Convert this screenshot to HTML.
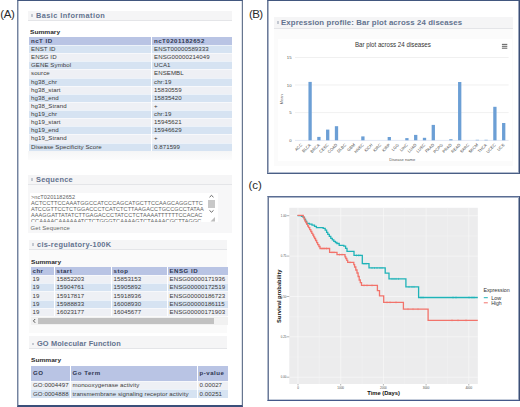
<!DOCTYPE html>
<html><head><meta charset="utf-8">
<style>
*{margin:0;padding:0;box-sizing:border-box}
html,body{width:520px;height:407px;overflow:hidden;background:#fff}
body{position:relative;font-family:"Liberation Sans",sans-serif;color:#333}
.abs{position:absolute}
.lbl{position:absolute;font-size:11.5px;color:#2a2a2a;line-height:1;white-space:nowrap}
.panel{position:absolute;border-style:solid}
.hdr{position:absolute;background:#f5f5f6;border-bottom:1px solid #e4e5e8;height:9.5px}
.hdr span{position:absolute;left:8px;top:1.2px;font-weight:bold;font-size:7.4px;color:#63738f;line-height:1;white-space:nowrap}
.hdr i{position:absolute;left:2.8px;top:3.4px;width:2.6px;height:2.6px;background:#c3c8d1}
table{position:absolute;border-collapse:collapse;font-size:6.1px;line-height:1;color:#3a3a3a}
td,th{padding:0 0 0 2px;letter-spacing:0.08px;text-align:left;white-space:nowrap;overflow:hidden;vertical-align:middle}
th{font-weight:bold;color:#2f3650;letter-spacing:0.5px}
.sum{position:absolute;font-size:5.7px;transform:scaleX(1.16);transform-origin:0 0;font-weight:bold;color:#2a2a2a;line-height:1}
tr.h{background:#b9c4e4}
tr.b{background:#d6e3f2}
tr.b td,tr.l td{box-shadow:inset 0 1px 0 rgba(255,255,255,.55)}
tr.l{background:#eef0f5}
td+td,th+th{border-left:1px solid #fff}
</style></head><body>

<div class="lbl" style="left:0.3px;top:9px;letter-spacing:-0.4px">(A)</div>
<div class="lbl" style="left:249px;top:9px;letter-spacing:-0.6px">(B)</div>
<div class="lbl" style="left:248.5px;top:179.5px">(c)</div>

<!-- Panel A -->
<div class="panel" style="left:17px;top:0;width:226px;height:407px;border-width:1px 1px 2px 1px;border-color:#42577f #67768f #3a4f7a #74839f;box-shadow:inset 1px 0 0 #bcc5d4,inset -1px 0 0 #dde2ea"></div>

<!-- Basic information -->
<div class="hdr" style="left:28px;top:11px;width:204px"><i></i><span style="letter-spacing:0.4px">Basic Information</span></div>
<div class="sum" style="left:29.5px;top:29.6px">Summary</div>
<table style="left:29px;top:37px;width:203px">
<colgroup><col style="width:122.5px"><col></colgroup>
<tr class="h" style="height:8.1px"><th>ncT ID</th><th>ncT0201182652</th></tr>
<tr class="b" style="height:8.13px"><td>ENST ID</td><td>ENST00000589333</td></tr>
<tr class="l" style="height:8.13px"><td>ENSG ID</td><td>ENSG00000214049</td></tr>
<tr class="b" style="height:8.13px"><td>GENE Symbol</td><td>UCA1</td></tr>
<tr class="l" style="height:8.13px"><td>source</td><td>ENSEMBL</td></tr>
<tr class="b" style="height:8.13px"><td>hg38_chr</td><td>chr:19</td></tr>
<tr class="l" style="height:8.13px"><td>hg38_start</td><td>15830559</td></tr>
<tr class="b" style="height:8.13px"><td>hg38_end</td><td>15835420</td></tr>
<tr class="l" style="height:8.13px"><td>hg38_Strand</td><td>+</td></tr>
<tr class="b" style="height:8.13px"><td>hg19_chr</td><td>chr:19</td></tr>
<tr class="l" style="height:8.13px"><td>hg19_start</td><td>15945621</td></tr>
<tr class="b" style="height:8.13px"><td>hg19_end</td><td>15946629</td></tr>
<tr class="l" style="height:8.13px"><td>hg19_Strand</td><td>+</td></tr>
<tr class="b" style="height:8.13px"><td>Disease Specificity Score</td><td>0.871599</td></tr>
</table>
<div class="abs" style="left:28px;top:151px;width:204px;height:9px;background:linear-gradient(#f5f6f7,#fcfcfc)"></div>


<!-- Sequence -->
<div class="hdr" style="left:28px;top:175px;width:204px"><i></i><span style="letter-spacing:0.25px">Sequence</span></div>
<div class="abs" style="left:28px;top:185px;width:204px;height:48px;background:#f7f7f8"></div>
<div class="abs" style="left:29.5px;top:193px;width:188px;height:29px;background:#fff;overflow:hidden">
<div class="abs seq" style="left:1.5px;top:0.8px;font-size:5.55px;line-height:6.15px;color:#636363;white-space:pre;letter-spacing:0.09px">&gt;ncT0201182652
ACTCCTTCCAAATGGCCATCCCAGCATGCTTCCAAGCAGGCTTC
ATCCGTTCCTCTGGACCCTCATCTCTTAAGACCTGCCGCCTATAA
AAAGGATTATATCTTGAGACCCTATCCTCTAAAATTTTTTCCACAC
CCAAAACAAAAAATCTCTGGGTCAAAAGTCTAAAACGCTTAGGC</div>
<div class="abs" style="left:178px;top:6.5px;width:7px;height:8.5px;background:#c8c8c8"></div>
<svg class="abs" style="left:177px;top:0" width="10" height="30" viewBox="0 0 10 30">
<path d="M2.5 4.2 L4.5 2.4 L6.5 4.2" fill="none" stroke="#555" stroke-width="0.9"/>
<path d="M2.5 17.4 L4.5 19.2 L6.5 17.4" fill="none" stroke="#555" stroke-width="0.9"/>
<path d="M8 24 L8 28.5 L3.5 28.5 Z" fill="#bdbdbd"/>
</svg>
</div>
<div class="abs" style="left:30.5px;top:225.8px;font-size:5.9px;color:#666;line-height:1;white-space:nowrap;letter-spacing:0.15px">Get Sequence</div>

<!-- cis-regulatory -->
<div class="hdr" style="left:29px;top:240px;width:198px"><i></i><span style="letter-spacing:0.28px">cis-regulatory-100K</span></div>
<div class="abs" style="left:29px;top:250px;width:198px;height:83px;background:#fafafa"></div>
<div class="sum" style="left:31px;top:259.5px">Summary</div>
<table style="left:30.5px;top:267px;width:197.5px">
<colgroup><col style="width:23.5px"><col style="width:57px"><col style="width:56px"><col></colgroup>
<tr class="h" style="height:7.8px"><th>chr</th><th>start</th><th>stop</th><th>ENSG ID</th></tr>
<tr class="l" style="height:8.33px"><td>19</td><td>15852203</td><td>15853153</td><td>ENSG00000171936</td></tr>
<tr class="b" style="height:8.33px"><td>19</td><td>15904761</td><td>15905892</td><td>ENSG00000172519</td></tr>
<tr class="l" style="height:8.33px"><td>19</td><td>15917817</td><td>15918936</td><td>ENSG00000186723</td></tr>
<tr class="b" style="height:8.33px"><td>19</td><td>15988833</td><td>16008930</td><td>ENSG00000186115</td></tr>
<tr class="l" style="height:8.33px"><td>19</td><td>16023177</td><td>16045677</td><td>ENSG00000171903</td></tr>
</table>
<div class="abs" style="left:31px;top:317.3px;width:197px;height:7.5px;background:#f1f1f1"></div>
<div class="abs" style="left:38px;top:317.8px;width:176px;height:6.5px;background:#c1c1c1"></div>
<svg class="abs" style="left:31px;top:317.3px" width="7" height="8"><path d="M4.2 2 L2.4 3.9 L4.2 5.8" fill="none" stroke="#444" stroke-width="0.9"/></svg>

<!-- GO -->
<div class="hdr" style="left:29px;top:336px;width:198px;height:12.5px"><i style="top:6.6px"></i><span style="letter-spacing:0.12px;top:4.4px">GO Molecular Function</span></div>
<div class="sum" style="left:31px;top:357.5px">Summary</div>
<table style="left:31px;top:365.5px;width:196.5px">
<colgroup><col style="width:39px"><col style="width:127px"><col></colgroup>
<tr class="h" style="height:15.2px"><th>GO</th><th>Go Term</th><th>p-value</th></tr>
<tr class="l" style="height:8.8px"><td>GO:0004497</td><td>monooxygenase activity</td><td>0.00027</td></tr>
<tr class="b" style="height:8.5px"><td>GO:0004888</td><td>transmembrane signaling receptor activity</td><td>0.00251</td></tr>
</table>


<!-- Panel B -->
<div class="panel" style="left:267px;top:0;width:253px;height:174px;border-width:1px;border-color:#42577f #3d4f75 #4a5f85 #6c7a98;box-shadow:inset 1px 0 0 #aab5c9,inset -1px 0 0 #9aa6bd,inset 0 -1px 0 #b4bed0"></div>
<div class="hdr" style="left:274px;top:17px;width:238.5px;height:11.5px"><i style="left:2.5px;top:4px;width:2.6px;height:2.6px"></i><span style="left:7px;top:2.2px;font-size:7.8px;letter-spacing:0.12px">Expression profile: Bar plot across 24 diseases</span></div>
<div class="abs" style="left:274px;top:29px;width:238.5px;height:137px;background:#fbfbfb"></div>
<div class="abs" style="left:278px;top:38.5px;width:233.5px;height:122px;background:#fff"></div>
<svg class="abs" style="left:0;top:0" width="520" height="407" viewBox="0 0 520 407" font-family="Liberation Sans, sans-serif">
<g stroke="#e6e6e6" stroke-width="0.6">
<line x1="295" x2="508.6" y1="57.5" y2="57.5"/><line x1="295" x2="508.6" y1="85" y2="85"/><line x1="295" x2="508.6" y1="112.6" y2="112.6"/>
</g>
<line x1="295" x2="508.6" y1="140.4" y2="140.4" stroke="#ccd6eb" stroke-width="0.6"/>
<g fill="#6c9fd5"><rect x="308.45" y="81.90" width="3.3" height="58.40"/><rect x="317.25" y="136.90" width="3.3" height="3.40"/><rect x="326.05" y="129.60" width="3.3" height="10.70"/><rect x="334.85" y="126.20" width="3.3" height="14.10"/><rect x="361.25" y="136.40" width="3.3" height="3.90"/><rect x="387.65" y="137.00" width="3.3" height="3.30"/><rect x="405.25" y="138.10" width="3.3" height="2.20"/><rect x="414.05" y="134.90" width="3.3" height="5.40"/><rect x="422.85" y="137.80" width="3.3" height="2.50"/><rect x="431.65" y="124.90" width="3.3" height="15.40"/><rect x="449.25" y="139.30" width="3.3" height="1.00"/><rect x="458.05" y="82.00" width="3.3" height="58.30"/><rect x="475.65" y="139.80" width="3.3" height="0.50"/><rect x="484.45" y="139.80" width="3.3" height="0.50"/><rect x="493.25" y="106.80" width="3.3" height="33.50"/><rect x="502.05" y="123.00" width="3.3" height="17.30"/></g>
<g font-size="4.3" fill="#555" text-anchor="end">
<text x="291.6" y="59.2">15</text><text x="291.6" y="86.7">10</text><text x="291.6" y="114.2">5</text><text x="291.6" y="141.8">0</text>
</g>
<text transform="translate(282.9,99.3) rotate(-90)" font-size="4" fill="#666" text-anchor="middle">Mean</text>
<g font-size="4.1" fill="#484848"><text transform="translate(302.50,145.2) rotate(-45)" text-anchor="end">ACC</text><text transform="translate(311.30,145.2) rotate(-45)" text-anchor="end">BLCA</text><text transform="translate(320.10,145.2) rotate(-45)" text-anchor="end">BRCA</text><text transform="translate(328.90,145.2) rotate(-45)" text-anchor="end">CESC</text><text transform="translate(337.70,145.2) rotate(-45)" text-anchor="end">COAD</text><text transform="translate(346.50,145.2) rotate(-45)" text-anchor="end">DLBC</text><text transform="translate(355.30,145.2) rotate(-45)" text-anchor="end">GBM</text><text transform="translate(364.10,145.2) rotate(-45)" text-anchor="end">HNSC</text><text transform="translate(372.90,145.2) rotate(-45)" text-anchor="end">KICH</text><text transform="translate(381.70,145.2) rotate(-45)" text-anchor="end">KIRC</text><text transform="translate(390.50,145.2) rotate(-45)" text-anchor="end">KIRP</text><text transform="translate(399.30,145.2) rotate(-45)" text-anchor="end">LGG</text><text transform="translate(408.10,145.2) rotate(-45)" text-anchor="end">LIHC</text><text transform="translate(416.90,145.2) rotate(-45)" text-anchor="end">LUAD</text><text transform="translate(425.70,145.2) rotate(-45)" text-anchor="end">LUSC</text><text transform="translate(434.50,145.2) rotate(-45)" text-anchor="end">PAAD</text><text transform="translate(443.30,145.2) rotate(-45)" text-anchor="end">PCPG</text><text transform="translate(452.10,145.2) rotate(-45)" text-anchor="end">PRAD</text><text transform="translate(460.90,145.2) rotate(-45)" text-anchor="end">READ</text><text transform="translate(469.70,145.2) rotate(-45)" text-anchor="end">SARC</text><text transform="translate(478.50,145.2) rotate(-45)" text-anchor="end">SKCM</text><text transform="translate(487.30,145.2) rotate(-45)" text-anchor="end">THCA</text><text transform="translate(496.10,145.2) rotate(-45)" text-anchor="end">UCEC</text><text transform="translate(504.90,145.2) rotate(-45)" text-anchor="end">UCS</text></g>
<text x="402.2" y="161" font-size="4.3" fill="#555" text-anchor="middle" textLength="26" lengthAdjust="spacingAndGlyphs">Disease name</text>
<text x="392.9" y="47.2" font-size="6.7" fill="#333" text-anchor="middle" textLength="76" lengthAdjust="spacingAndGlyphs">Bar plot across 24 diseases</text>
<g stroke="#6a6a6a" stroke-width="1.1"><line x1="501.9" x2="507.3" y1="44.4" y2="44.4"/><line x1="501.9" x2="507.3" y1="46.3" y2="46.3"/><line x1="501.9" x2="507.3" y1="48.2" y2="48.2"/></g>
</svg>


<!-- Panel C -->
<div class="panel" style="left:267px;top:196px;width:253px;height:205px;border-width:1px;border-color:#5a6d93 #3d4f75 #44598a #b0bacc;box-shadow:inset 1px 0 0 #6c7a98,inset 0 1px 0 #a9b4c8,inset -1px 0 0 #9aa6bd,inset 0 -1px 0 #c5cddb"></div>
<svg class="abs" style="left:0;top:0" width="520" height="407" viewBox="0 0 520 407" font-family="Liberation Sans, sans-serif">
<rect x="289.3" y="207.8" width="188.5" height="176.2" fill="#ececed"/>
<line x1="289.3" x2="477.8" y1="215.7" y2="215.7" stroke="#fafafa" stroke-width="0.65"/><line x1="289.3" x2="477.8" y1="256.1" y2="256.1" stroke="#fafafa" stroke-width="0.65"/><line x1="289.3" x2="477.8" y1="296.5" y2="296.5" stroke="#fafafa" stroke-width="0.65"/><line x1="289.3" x2="477.8" y1="336.8" y2="336.8" stroke="#fafafa" stroke-width="0.65"/><line x1="289.3" x2="477.8" y1="377.2" y2="377.2" stroke="#fafafa" stroke-width="0.65"/><line x1="289.3" x2="477.8" y1="235.9" y2="235.9" stroke="#f4f4f5" stroke-width="0.4"/><line x1="289.3" x2="477.8" y1="276.3" y2="276.3" stroke="#f4f4f5" stroke-width="0.4"/><line x1="289.3" x2="477.8" y1="316.65" y2="316.65" stroke="#f4f4f5" stroke-width="0.4"/><line x1="289.3" x2="477.8" y1="357.0" y2="357.0" stroke="#f4f4f5" stroke-width="0.4"/><line y1="207.8" y2="384" x1="298.0" x2="298.0" stroke="#fafafa" stroke-width="0.65"/><line y1="207.8" y2="384" x1="340.7" x2="340.7" stroke="#fafafa" stroke-width="0.65"/><line y1="207.8" y2="384" x1="383.4" x2="383.4" stroke="#fafafa" stroke-width="0.65"/><line y1="207.8" y2="384" x1="426.1" x2="426.1" stroke="#fafafa" stroke-width="0.65"/><line y1="207.8" y2="384" x1="468.8" x2="468.8" stroke="#fafafa" stroke-width="0.65"/><line y1="207.8" y2="384" x1="319.35" x2="319.35" stroke="#f4f4f5" stroke-width="0.4"/><line y1="207.8" y2="384" x1="362.04999999999995" x2="362.04999999999995" stroke="#f4f4f5" stroke-width="0.4"/><line y1="207.8" y2="384" x1="404.75" x2="404.75" stroke="#f4f4f5" stroke-width="0.4"/><line y1="207.8" y2="384" x1="447.45000000000005" x2="447.45000000000005" stroke="#f4f4f5" stroke-width="0.4"/>
<path d="M286.6 215.7H289.3M286.6 256.1H289.3M286.6 296.5H289.3M286.6 336.8H289.3M286.6 377.2H289.3M298.0 384V385.5M340.7 384V385.5M383.4 384V385.5M426.1 384V385.5M468.8 384V385.5" stroke="#444" stroke-width="0.4" fill="none"/>
<g font-size="2.8" fill="#4d4d4d" text-anchor="end"><text x="286.3" y="216.7">1.00</text><text x="286.3" y="257.1">0.75</text><text x="286.3" y="297.5">0.50</text><text x="286.3" y="337.8">0.25</text><text x="286.3" y="378.2">0.00</text></g>
<g font-size="3" fill="#4d4d4d" text-anchor="middle"><text x="298.0" y="389">0</text><text x="340.7" y="389">1000</text><text x="383.4" y="389">2000</text><text x="426.1" y="389">3000</text><text x="468.8" y="389">4000</text></g>
<path d="M297.5 215.6H301.5V216.4H303.2V217.3H304.5V219.3H305.6V221.4H306.7V223.3H309.4V224.2H312V225.2H314.5V226.4H316.4V227.7H323.2V228.4H325.2V230.2H326.6V232.3H327.8V234.4H329.3V236.4H330.8V238.4H332.3V239.8H333.8V241.4H335.4V242.5H336.9V243.5H339.2V245.3H343.8V246.2H345.6V248.4H347.0V251.4H354.0V255.4H362.3V263.6H369.0V267.8H385.2V273.2H389.0V278.9H405.9V286.9H418.6V297.5H477.8" fill="none" stroke="#1fb3b8" stroke-width="1.3"/>
<path d="M356.5 254.4V256.4M358.5 254.4V256.4M360 254.4V256.4M364 262.8V264.8M366 262.8V264.8M372 267V269M374.5 267V269M377 267V269M380 267V269M382 267V269M392 277.9V279.9M394 277.9V279.9M396 277.9V279.9M398.5 277.9V279.9M409 285.9V287.9M412 285.9V287.9M414 285.9V287.9M421 296.5V298.5M423 296.5V298.5M453 296.5V298.5M456 296.5V298.5M469 296.5V298.5M472 296.5V298.5M474 296.5V298.5" fill="none" stroke="#1fb3b8" stroke-width="0.5"/>
<path d="M297.5 215.4H303.2V216.9H304.0V218.6H304.8V220.8H305.8V222.5H306.8V224.3H307.7V226.0H308.6V227.7H309.7V229.6H310.8V231.5H311.8V233.3H312.8V235.0H313.7V236.8H314.6V238.5H315.6V240.5H316.7V242.6H317.7V244.6H318.9V246.5H320.0V248.5H329.6V252.3H337.0V254.6H345.0V256.8H345.8V258.5H346.8V260.4H347.7V262.3H353.8V264.6H354.6V267.0H355.8V270.0H357.0V273.0H358.1V276.5H359.2V280.0H360.3V282.7H361.5V285.4H377.4V290.7H379.5V295.8H383.7V302.3H403.4V309.1H428.1V320.3H477.8" fill="none" stroke="#f2736b" stroke-width="1.3"/>
<path d="M322 247.5V249.5M324 247.5V249.5M326.5 247.5V249.5M332 251.3V253.3M334 251.3V253.3M339.5 253.6V255.6M342 253.6V255.6M350 261.3V263.3M364 284.4V286.4M367 284.4V286.4M372 284.4V286.4M387 301.3V303.3M390 301.3V303.3M396 301.3V303.3M408 308.1V310.1M413 308.1V310.1M418 308.1V310.1M452 319.3V321.3M458 319.3V321.3M466 319.3V321.3" fill="none" stroke="#f2736b" stroke-width="0.5"/>
<text transform="translate(280.9,296.2) rotate(-90)" font-size="5.5" font-weight="bold" fill="#111" text-anchor="middle" textLength="53.4" lengthAdjust="spacingAndGlyphs">Survival probability</text>
<text x="383.6" y="394.5" font-size="6.2" font-weight="bold" fill="#111" text-anchor="middle" textLength="32.7" lengthAdjust="spacingAndGlyphs">Time (Days)</text>
<text x="483.4" y="291.5" font-size="5.2" fill="#333" textLength="26.4" lengthAdjust="spacingAndGlyphs">Expression</text>
<line x1="483.8" x2="487.8" y1="297.7" y2="297.7" stroke="#1fb3b8" stroke-width="1"/>
<line x1="483.8" x2="487.8" y1="302.8" y2="302.8" stroke="#f2736b" stroke-width="1"/>
<text x="491.2" y="299.6" font-size="5.2" fill="#333" textLength="10" lengthAdjust="spacingAndGlyphs">Low</text>
<text x="491.2" y="304.7" font-size="5.2" fill="#333" textLength="10.5" lengthAdjust="spacingAndGlyphs">High</text>
</svg>

</body></html>
